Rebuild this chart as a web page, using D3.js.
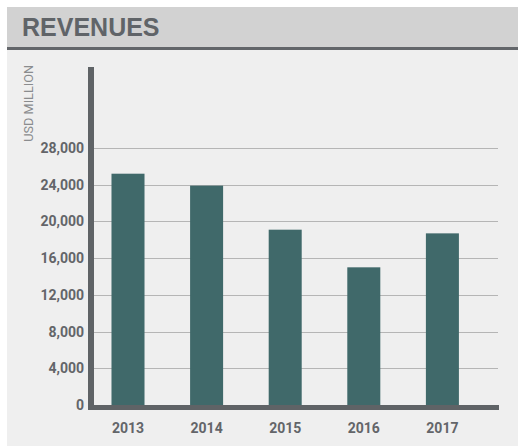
<!DOCTYPE html>
<html>
<head>
<meta charset="utf-8">
<script src="https://cdn.jsdelivr.net/npm/d3@7"></script>
<style>
  html, body { margin: 0; padding: 0; background: #ffffff; }
  svg { display: block; }
</style>
</head>
<body>
<svg id="chart" width="518" height="446"></svg>
<script>
// Annual revenues, USD million
const years = ["2013", "2014", "2015", "2016", "2017"];
const revenues = [25200, 23900, 19100, 15000, 18700];
const yTicks = [0, 4000, 8000, 12000, 16000, 20000, 24000, 28000];
const title = "REVENUES";
const unitLabel = "USD MILLION";

const svg = d3.select("#chart");
const W = 518, H = 446;

// panel and header
svg.append("rect").attr("x", 7).attr("y", 7).attr("width", W - 7).attr("height", H - 7).attr("fill", "#efefef");
svg.append("rect").attr("x", 7).attr("y", 7).attr("width", W - 7).attr("height", 40).attr("fill", "#d2d2d2");
svg.append("rect").attr("x", 7).attr("y", 47).attr("width", W - 7).attr("height", 3).attr("fill", "#63666a");
svg.append("text")
  .attr("x", 22).attr("y", 36)
  .attr("font-family", "'Liberation Sans', Arial, sans-serif")
  .attr("font-weight", "bold").attr("font-size", 25)
  .attr("fill", "#606468")
  .text(title);

const x = d3.scaleBand().domain(years).range([88.7, 481.7]).paddingInner(0.58).paddingOuter(0.29);
const y = d3.scaleLinear().domain([0, 28000]).range([405, 148]);

// gridlines
svg.append("g").selectAll("line").data(yTicks.filter(d => d > 0)).join("line")
  .attr("x1", 94).attr("x2", 498)
  .attr("y1", d => Math.round(y(d)) + 0.5).attr("y2", d => Math.round(y(d)) + 0.5)
  .attr("stroke", "#b5b5b5").attr("stroke-width", 1);

// bars
svg.append("g").selectAll("rect").data(revenues).join("rect")
  .attr("x", (d, i) => x(years[i]))
  .attr("width", x.bandwidth())
  .attr("y", d => y(d))
  .attr("height", d => y(0) - y(d))
  .attr("fill", "#40696a");

// y axis
const yAxis = d3.axisLeft(y).tickValues(yTicks).tickSize(0).tickPadding(4).tickFormat(d3.format(","));
const gy = svg.append("g").attr("transform", "translate(88,0)").call(yAxis);
gy.select(".domain").remove();
gy.selectAll("text")
  .attr("font-family", "Roboto, sans-serif").attr("font-weight", "bold")
  .attr("font-size", 14).attr("fill", "#636569");

// x axis
const xAxis = d3.axisBottom(x).tickSize(0).tickPadding(13);
const gx = svg.append("g").attr("transform", "translate(0,410)").call(xAxis);
gx.select(".domain").remove();
gx.selectAll("text")
  .attr("font-family", "Roboto, sans-serif").attr("font-weight", "bold")
  .attr("font-size", 14).attr("fill", "#636569");

// axis lines
svg.append("rect").attr("x", 88).attr("y", 67).attr("width", 6).attr("height", 343).attr("fill", "#5f6366");
svg.append("rect").attr("x", 88).attr("y", 405).attr("width", 411).attr("height", 5).attr("fill", "#5f6366");

// unit label
svg.append("text")
  .attr("transform", "translate(33,65) rotate(-90)")
  .attr("text-anchor", "end")
  .attr("font-family", "Roboto, sans-serif")
  .attr("font-size", 12.7).attr("fill", "#8a8c8e")
  .text(unitLabel);
</script>
</body>
</html>
